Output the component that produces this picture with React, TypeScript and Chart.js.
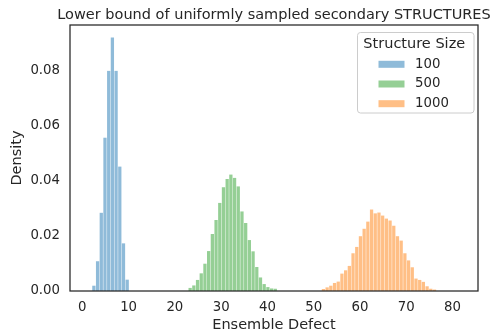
import React, { useEffect, useRef } from "react";
import { Chart, registerables } from "chart.js";

Chart.register(...registerables);

// ---- data (density per bin, bins of equal width) ----
const binWidth = 0.8;
const size100Start = 2.5;
const size500Start = 23.3;
const size1000Start = 52.1;

const size100 = [0.0018, 0.0107, 0.0283, 0.0556, 0.0799, 0.092, 0.0799, 0.0451, 0.0172, 0.004];
const size500 = [
  0.001, 0.0019, 0.0039, 0.0063, 0.0098, 0.0144, 0.0206, 0.0257, 0.0319, 0.0376, 0.0406, 0.0422,
  0.041, 0.0379, 0.0288, 0.0246, 0.0184, 0.0143, 0.0086, 0.0048, 0.0024, 0.0013, 0.0008, 0.0007,
];
const size1000 = [
  0.0006, 0.0012, 0.0018, 0.0028, 0.0033, 0.0062, 0.0074, 0.009, 0.0136, 0.0159, 0.0198, 0.0225,
  0.0251, 0.0295, 0.0281, 0.0284, 0.0273, 0.0262, 0.0255, 0.0236, 0.0198, 0.0182, 0.0136, 0.011,
  0.0085, 0.0044, 0.0039, 0.0032, 0.0016, 0.0007, 0.0004,
];
const seriesLabels = ["100", "500", "1000"];
const xTicks = [0, 10, 20, 30, 40, 50, 60, 70, 80];
const yTicks = [0, 0.02, 0.04, 0.06, 0.08];

const titleText = "Lower bound of uniformly sampled secondary STRUCTURES";
const xTitle = "Ensemble Defect";
const yTitle = "Density";
const legendTitle = "Structure Size";

const FONT = "'DejaVu Sans', sans-serif";
const TEXT = "#262626";
const COLORS = ["rgba(31,119,180,0.5)", "rgba(44,160,44,0.5)", "rgba(255,127,14,0.5)"];

const toPoints = (start: number, vals: number[]) =>
  vals.map((v, i) => ({ x: start + i * binWidth, y: v }));

const decorPlugin = {
  id: "decor",
  afterDatasetsDraw(chart: any) {
    const { ctx, chartArea: ca } = chart;
    ctx.save();
    ctx.strokeStyle = TEXT;
    ctx.lineWidth = 1.25;
    ctx.strokeRect(ca.left, ca.top, ca.right - ca.left, ca.bottom - ca.top);
    ctx.restore();
  },
  afterDraw(chart: any) {
    const { ctx, chartArea: ca } = chart;
    ctx.save();
    // title
    ctx.fillStyle = TEXT;
    ctx.font = `14.5px ${FONT}`;
    ctx.textAlign = "center";
    ctx.textBaseline = "alphabetic";
    ctx.fillText(titleText, (ca.left + ca.right) / 2, ca.top - 6.5);

    // legend
    const x0 = ca.right - 120.5;
    const y0 = ca.top + 7.5;
    const w = 116.5;
    const h = 80.5;
    ctx.beginPath();
    (ctx as any).roundRect(x0, y0, w, h, 3);
    ctx.fillStyle = "rgba(255,255,255,0.8)";
    ctx.fill();
    ctx.strokeStyle = "#cccccc";
    ctx.lineWidth = 1;
    ctx.stroke();

    ctx.fillStyle = TEXT;
    ctx.font = `14.5px ${FONT}`;
    ctx.textAlign = "center";
    ctx.textBaseline = "middle";
    ctx.fillText(legendTitle, x0 + w / 2 - 1.5, y0 + 12);

    ctx.font = `13.3px ${FONT}`;
    ctx.textAlign = "left";
    chart.data.datasets.forEach((ds: any, i: number) => {
      const cy = y0 + 31.8 + i * 19.7;
      ctx.fillStyle = ds.backgroundColor;
      ctx.fillRect(x0 + 21, cy - 3.5, 26, 7);
      ctx.fillStyle = TEXT;
      ctx.fillText(ds.label, x0 + 57.5, cy);
    });
    ctx.restore();
  },
};

export default function App() {
  const ref = useRef<HTMLCanvasElement | null>(null);

  useEffect(() => {
    document.body.style.margin = "0";
    const canvas = ref.current!;
    const chart = new Chart(canvas, {
      type: "bar",
      data: {
        datasets: [
          { label: seriesLabels[0], data: toPoints(size100Start, size100), backgroundColor: COLORS[0] },
          { label: seriesLabels[1], data: toPoints(size500Start, size500), backgroundColor: COLORS[1] },
          { label: seriesLabels[2], data: toPoints(size1000Start, size1000), backgroundColor: COLORS[2] },
        ] as any,
      },
      options: {
        animation: false,
        responsive: false,
        devicePixelRatio: 1,
        layout: { padding: { top: 25, right: 17, left: 0, bottom: 0 } },
        datasets: { bar: { grouped: false, barThickness: 2.6, borderWidth: 0 } } as any,
        plugins: {
          legend: { display: false },
          title: { display: false },
          tooltip: { enabled: false },
        },
        scales: {
          x: {
            type: "linear",
            min: -2.66,
            max: 85.5,
            offset: false,
            grid: { display: false, drawTicks: false },
            border: { display: false },
            afterBuildTicks: (s: any) => {
              s.ticks = xTicks.map((v) => ({ value: v }));
            },
            afterFit: (s: any) => {
              s.height = 43;
            },
            ticks: {
              color: TEXT,
              font: { family: FONT, size: 13.3 },
              padding: 9,
              maxRotation: 0,
              autoSkip: false,
            },
            title: {
              display: true,
              text: xTitle,
              color: TEXT,
              font: { family: FONT, size: 14.5 },
              padding: { top: 0, bottom: 0.5 },
            },
          },
          y: {
            type: "linear",
            min: 0,
            max: 0.0967,
            grid: { display: false, drawTicks: false },
            border: { display: false },
            afterBuildTicks: (s: any) => {
              s.ticks = yTicks.map((v) => ({ value: v }));
            },
            afterFit: (s: any) => {
              s.width = 70;
            },
            ticks: {
              color: TEXT,
              font: { family: FONT, size: 13.3 },
              padding: 10,
              autoSkip: false,
              callback: (v: any) => Number(v).toFixed(2),
            },
            title: {
              display: true,
              text: yTitle,
              color: TEXT,
              font: { family: FONT, size: 14.5 },
              padding: { top: 8.3, bottom: 0 },
            },
          },
        },
      },
      plugins: [decorPlugin],
    });
    return () => chart.destroy();
  }, []);

  return (
    <div style={{ width: 495, height: 334, background: "#fff" }}>
      <canvas ref={ref} width={495} height={334} style={{ display: "block" }} />
    </div>
  );
}
